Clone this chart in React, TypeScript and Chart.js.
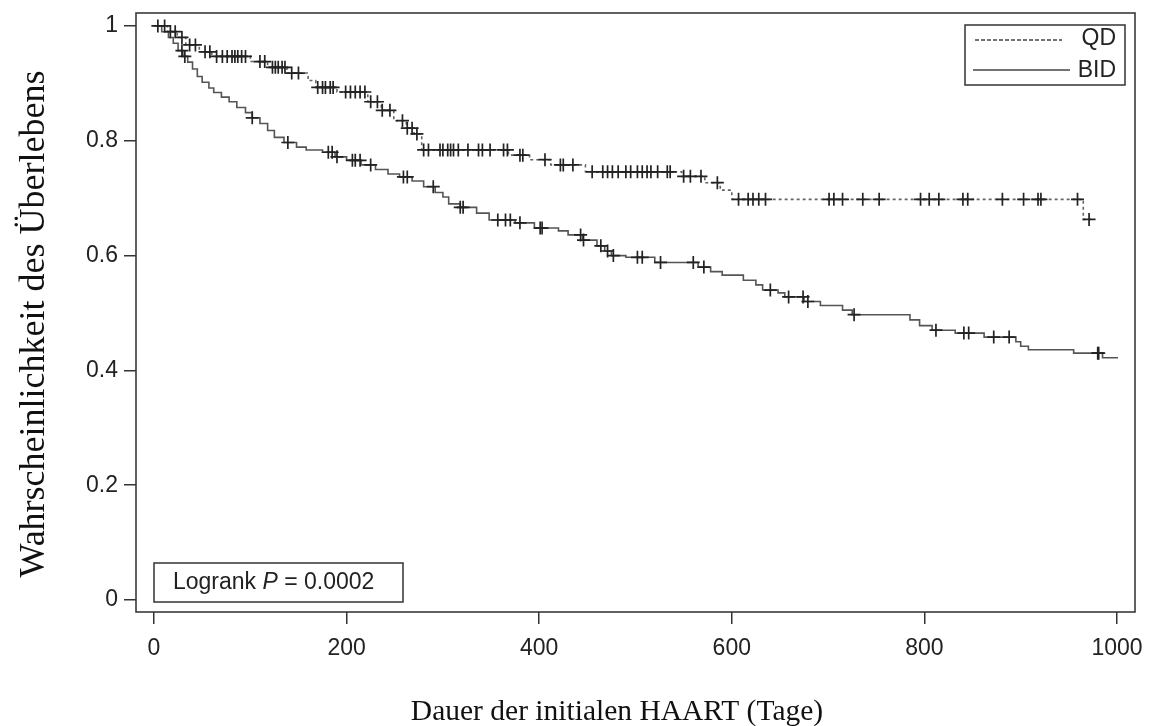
import React, { useEffect, useRef } from "react";
import { Chart, registerables } from "chart.js";

Chart.register(...registerables);

// ---- data ----
const seriesNames = ["QD", "BID"];
const xTicks = [0, 200, 400, 600, 800, 1000];
const xTickLabels = ["0", "200", "400", "600", "800", "1000"];
const yTicks = [0, 0.2, 0.4, 0.6, 0.8, 1];
const yTickLabels = ["0", "0.2", "0.4", "0.6", "0.8", "1"];
const xTitle = "Dauer der initialen HAART (Tage)";
const yTitle = "Wahrscheinlichkeit des Überlebens";
const testLabel = "Logrank";
const testStat = "P";
const pValue = "0.0002";

// QD (dashed) Kaplan-Meier steps
const qdTimes = [0, 14, 24, 33, 47, 60, 100, 118, 138, 160, 168, 190, 222, 236, 249, 262, 270, 278, 368, 390, 412, 448, 548, 572, 588, 600, 965];
const qdSurv = [1, 0.99, 0.98, 0.967, 0.955, 0.947, 0.938, 0.928, 0.918, 0.905, 0.893, 0.885, 0.868, 0.853, 0.835, 0.822, 0.812, 0.784, 0.775, 0.767, 0.758, 0.746, 0.738, 0.727, 0.714, 0.698, 0.663];
const qdEndTime = 973;
const qdCensorTimes = [4, 11, 17, 22, 29, 37, 43, 53, 58, 65, 71, 76, 81, 84, 87, 91, 95, 110, 115, 123, 126, 129, 133, 136, 143, 150, 170, 175, 178, 183, 186, 199, 204, 209, 214, 219, 225, 232, 237, 245, 258, 263, 268, 273, 280, 285, 297, 300, 305, 308, 311, 316, 326, 337, 341, 349, 363, 367, 380, 383, 406, 422, 425, 435, 455, 466, 471, 476, 482, 490, 495, 502, 507, 512, 516, 523, 533, 536, 550, 557, 568, 585, 607, 617, 622, 628, 635, 701, 706, 715, 736, 753, 796, 805, 815, 840, 845, 881, 903, 918, 921, 959, 971];

// BID (solid) Kaplan-Meier steps
const bidTimes = [0, 8, 15, 20, 25, 30, 35, 40, 45, 50, 57, 62, 70, 78, 86, 95, 102, 110, 118, 125, 135, 148, 158, 175, 188, 200, 215, 230, 243, 255, 268, 280, 292, 300, 306, 318, 335, 348, 375, 395, 420, 430, 445, 460, 468, 475, 490, 520, 565, 578, 590, 612, 625, 632, 648, 655, 675, 692, 715, 725, 785, 795, 808, 832, 862, 895, 900, 908, 955, 985];
const bidSurv = [1, 0.99, 0.98, 0.97, 0.957, 0.947, 0.937, 0.925, 0.912, 0.902, 0.892, 0.884, 0.876, 0.868, 0.858, 0.849, 0.84, 0.83, 0.818, 0.806, 0.797, 0.789, 0.784, 0.78, 0.772, 0.766, 0.758, 0.75, 0.742, 0.737, 0.73, 0.72, 0.71, 0.702, 0.69, 0.684, 0.674, 0.662, 0.657, 0.648, 0.643, 0.636, 0.627, 0.617, 0.608, 0.6, 0.597, 0.588, 0.58, 0.572, 0.566, 0.557, 0.549, 0.54, 0.535, 0.528, 0.52, 0.513, 0.505, 0.497, 0.488, 0.478, 0.47, 0.465, 0.458, 0.45, 0.442, 0.436, 0.43, 0.422];
const bidEndTime = 1001;
const bidCensorTimes = [29, 32, 102, 139, 181, 185, 190, 206, 209, 214, 225, 259, 263, 290, 318, 321, 357, 365, 370, 380, 401, 403, 443, 446, 464, 471, 477, 502, 507, 526, 560, 571, 640, 659, 674, 679, 727, 812, 841, 846, 872, 888, 980, 981];

// ---- helpers ----
function survivalAt(times: number[], surv: number[], t: number) {
  let s = surv[0];
  for (let i = 0; i < times.length; i++) if (times[i] <= t) s = surv[i];
  return s;
}
function stepPoints(times: number[], surv: number[], end: number) {
  const pts = times.map((t, i) => ({ x: t, y: surv[i] }));
  pts.push({ x: end, y: surv[surv.length - 1] });
  return pts;
}
function censorPoints(times: number[], surv: number[], censors: number[]) {
  return censors.map((t) => ({ x: t, y: survivalAt(times, surv, t) }));
}

const SANS = '"Liberation Sans", Arial, Helvetica, sans-serif';
const SERIF = '"Liberation Serif", "Times New Roman", serif';
const INK = "#222";

const decorPlugin = {
  id: "decor",
  afterDraw(chart: any) {
    const { ctx, chartArea: a } = chart;
    ctx.save();
    // frame
    ctx.strokeStyle = "#3a3a3a";
    ctx.lineWidth = 1.6;
    ctx.strokeRect(a.left, a.top, a.right - a.left, a.bottom - a.top);

    // legend box (top right)
    const bw = 160, bh = 60;
    const bx = a.right - 10 - bw, by = a.top + 12;
    ctx.lineWidth = 1.5;
    ctx.strokeStyle = "#333";
    ctx.strokeRect(bx, by, bw, bh);
    ctx.strokeStyle = "#444";
    ctx.lineWidth = 1.5;
    ctx.setLineDash([4, 2]);
    ctx.beginPath();
    ctx.moveTo(bx + 10, by + 15);
    ctx.lineTo(bx + 97, by + 15);
    ctx.stroke();
    ctx.setLineDash([]);
    ctx.beginPath();
    ctx.moveTo(bx + 8, by + 45);
    ctx.lineTo(bx + 105, by + 45);
    ctx.stroke();
    ctx.fillStyle = INK;
    ctx.font = `23px ${SANS}`;
    ctx.textAlign = "right";
    ctx.textBaseline = "middle";
    ctx.fillText(seriesNames[0], bx + bw - 9, by + 14);
    ctx.fillText(seriesNames[1], bx + bw - 9, by + 46);

    // logrank box (bottom left)
    const lx = a.left + 18, ly = a.bottom - 49, lw = 249, lh = 39;
    ctx.strokeStyle = "#333";
    ctx.strokeRect(lx, ly, lw, lh);
    ctx.textAlign = "left";
    let tx = lx + 19;
    const ty = ly + 20;
    ctx.font = `23px ${SANS}`;
    ctx.fillText(testLabel + " ", tx, ty);
    tx += ctx.measureText(testLabel + " ").width;
    ctx.font = `italic 23px ${SANS}`;
    ctx.fillText(testStat, tx, ty);
    tx += ctx.measureText(testStat).width;
    ctx.font = `23px ${SANS}`;
    ctx.fillText(" = " + pValue, tx, ty);

    // axis titles
    ctx.fillStyle = "#111";
    ctx.textAlign = "center";
    ctx.textBaseline = "middle";
    ctx.font = `29.5px ${SERIF}`;
    ctx.fillText(xTitle, 617, 712);
    ctx.translate(35, 324);
    ctx.rotate(-Math.PI / 2);
    ctx.font = `36px ${SERIF}`;
    ctx.fillText(yTitle, 0, 0);
    ctx.restore();
  },
};

export default function App() {
  const ref = useRef<HTMLCanvasElement | null>(null);
  useEffect(() => {
    if (!ref.current) return;
    const chart = new Chart(ref.current, {
      type: "scatter",
      data: {
        datasets: [
          {
            label: seriesNames[0] + " censored",
            data: censorPoints(qdTimes, qdSurv, qdCensorTimes),
            showLine: false,
            pointStyle: "cross",
            pointRadius: 6.5,
            pointBorderWidth: 1.7,
            borderColor: INK,
            backgroundColor: INK,
          },
          {
            label: seriesNames[1] + " censored",
            data: censorPoints(bidTimes, bidSurv, bidCensorTimes),
            showLine: false,
            pointStyle: "cross",
            pointRadius: 6.5,
            pointBorderWidth: 1.7,
            borderColor: INK,
            backgroundColor: INK,
          },
          {
            label: seriesNames[0],
            data: stepPoints(qdTimes, qdSurv, qdEndTime),
            showLine: true,
            stepped: true,
            pointRadius: 0,
            borderColor: "#666",
            borderWidth: 1.6,
            borderDash: [3, 3],
          },
          {
            label: seriesNames[1],
            data: stepPoints(bidTimes, bidSurv, bidEndTime),
            showLine: true,
            stepped: true,
            pointRadius: 0,
            borderColor: "#555",
            borderWidth: 1.6,
          },
        ],
      },
      options: {
        responsive: false,
        animation: false,
        events: [],
        layout: { padding: { top: 13, right: 22, left: 0, bottom: 0 } },
        plugins: { legend: { display: false }, tooltip: { enabled: false } },
        scales: {
          x: {
            type: "linear",
            min: -18.7,
            max: 1018.7,
            afterFit: (s: any) => {
              s.height = 114;
              s.paddingLeft = 0;
              s.paddingRight = 0;
              s.paddingTop = 0;
              s.paddingBottom = 0;
            },
            afterBuildTicks: (s: any) => {
              s.ticks = xTicks.map((v) => ({ value: v }));
            },
            ticks: {
              callback: (v: any) => xTickLabels[xTicks.indexOf(Number(v))] ?? "",
              font: { family: SANS, size: 23 },
              color: INK,
              padding: 11,
              maxRotation: 0,
            },
            grid: { drawOnChartArea: false, drawTicks: true, tickLength: 12, color: "#333", lineWidth: 1.5 },
            border: { display: false },
          },
          y: {
            type: "linear",
            min: -0.0209,
            max: 1.0226,
            afterFit: (s: any) => {
              s.width = 136;
              s.paddingLeft = 0;
              s.paddingRight = 0;
              s.paddingTop = 0;
              s.paddingBottom = 0;
            },
            afterBuildTicks: (s: any) => {
              s.ticks = yTicks.map((v) => ({ value: v }));
            },
            ticks: {
              callback: (v: any) => yTickLabels[yTicks.indexOf(Number(v))] ?? "",
              font: { family: SANS, size: 23 },
              color: INK,
              padding: 6,
            },
            grid: { drawOnChartArea: false, drawTicks: true, tickLength: 12, color: "#333", lineWidth: 1.5 },
            border: { display: false },
          },
        },
      },
      plugins: [decorPlugin],
    } as any);
    return () => chart.destroy();
  }, []);
  return (
    <div style={{ position: "absolute", left: 0, top: 0, width: 1157, height: 726, background: "#fff" }}>
      <canvas ref={ref} width={1157} height={726} style={{ display: "block" }} />
    </div>
  );
}
